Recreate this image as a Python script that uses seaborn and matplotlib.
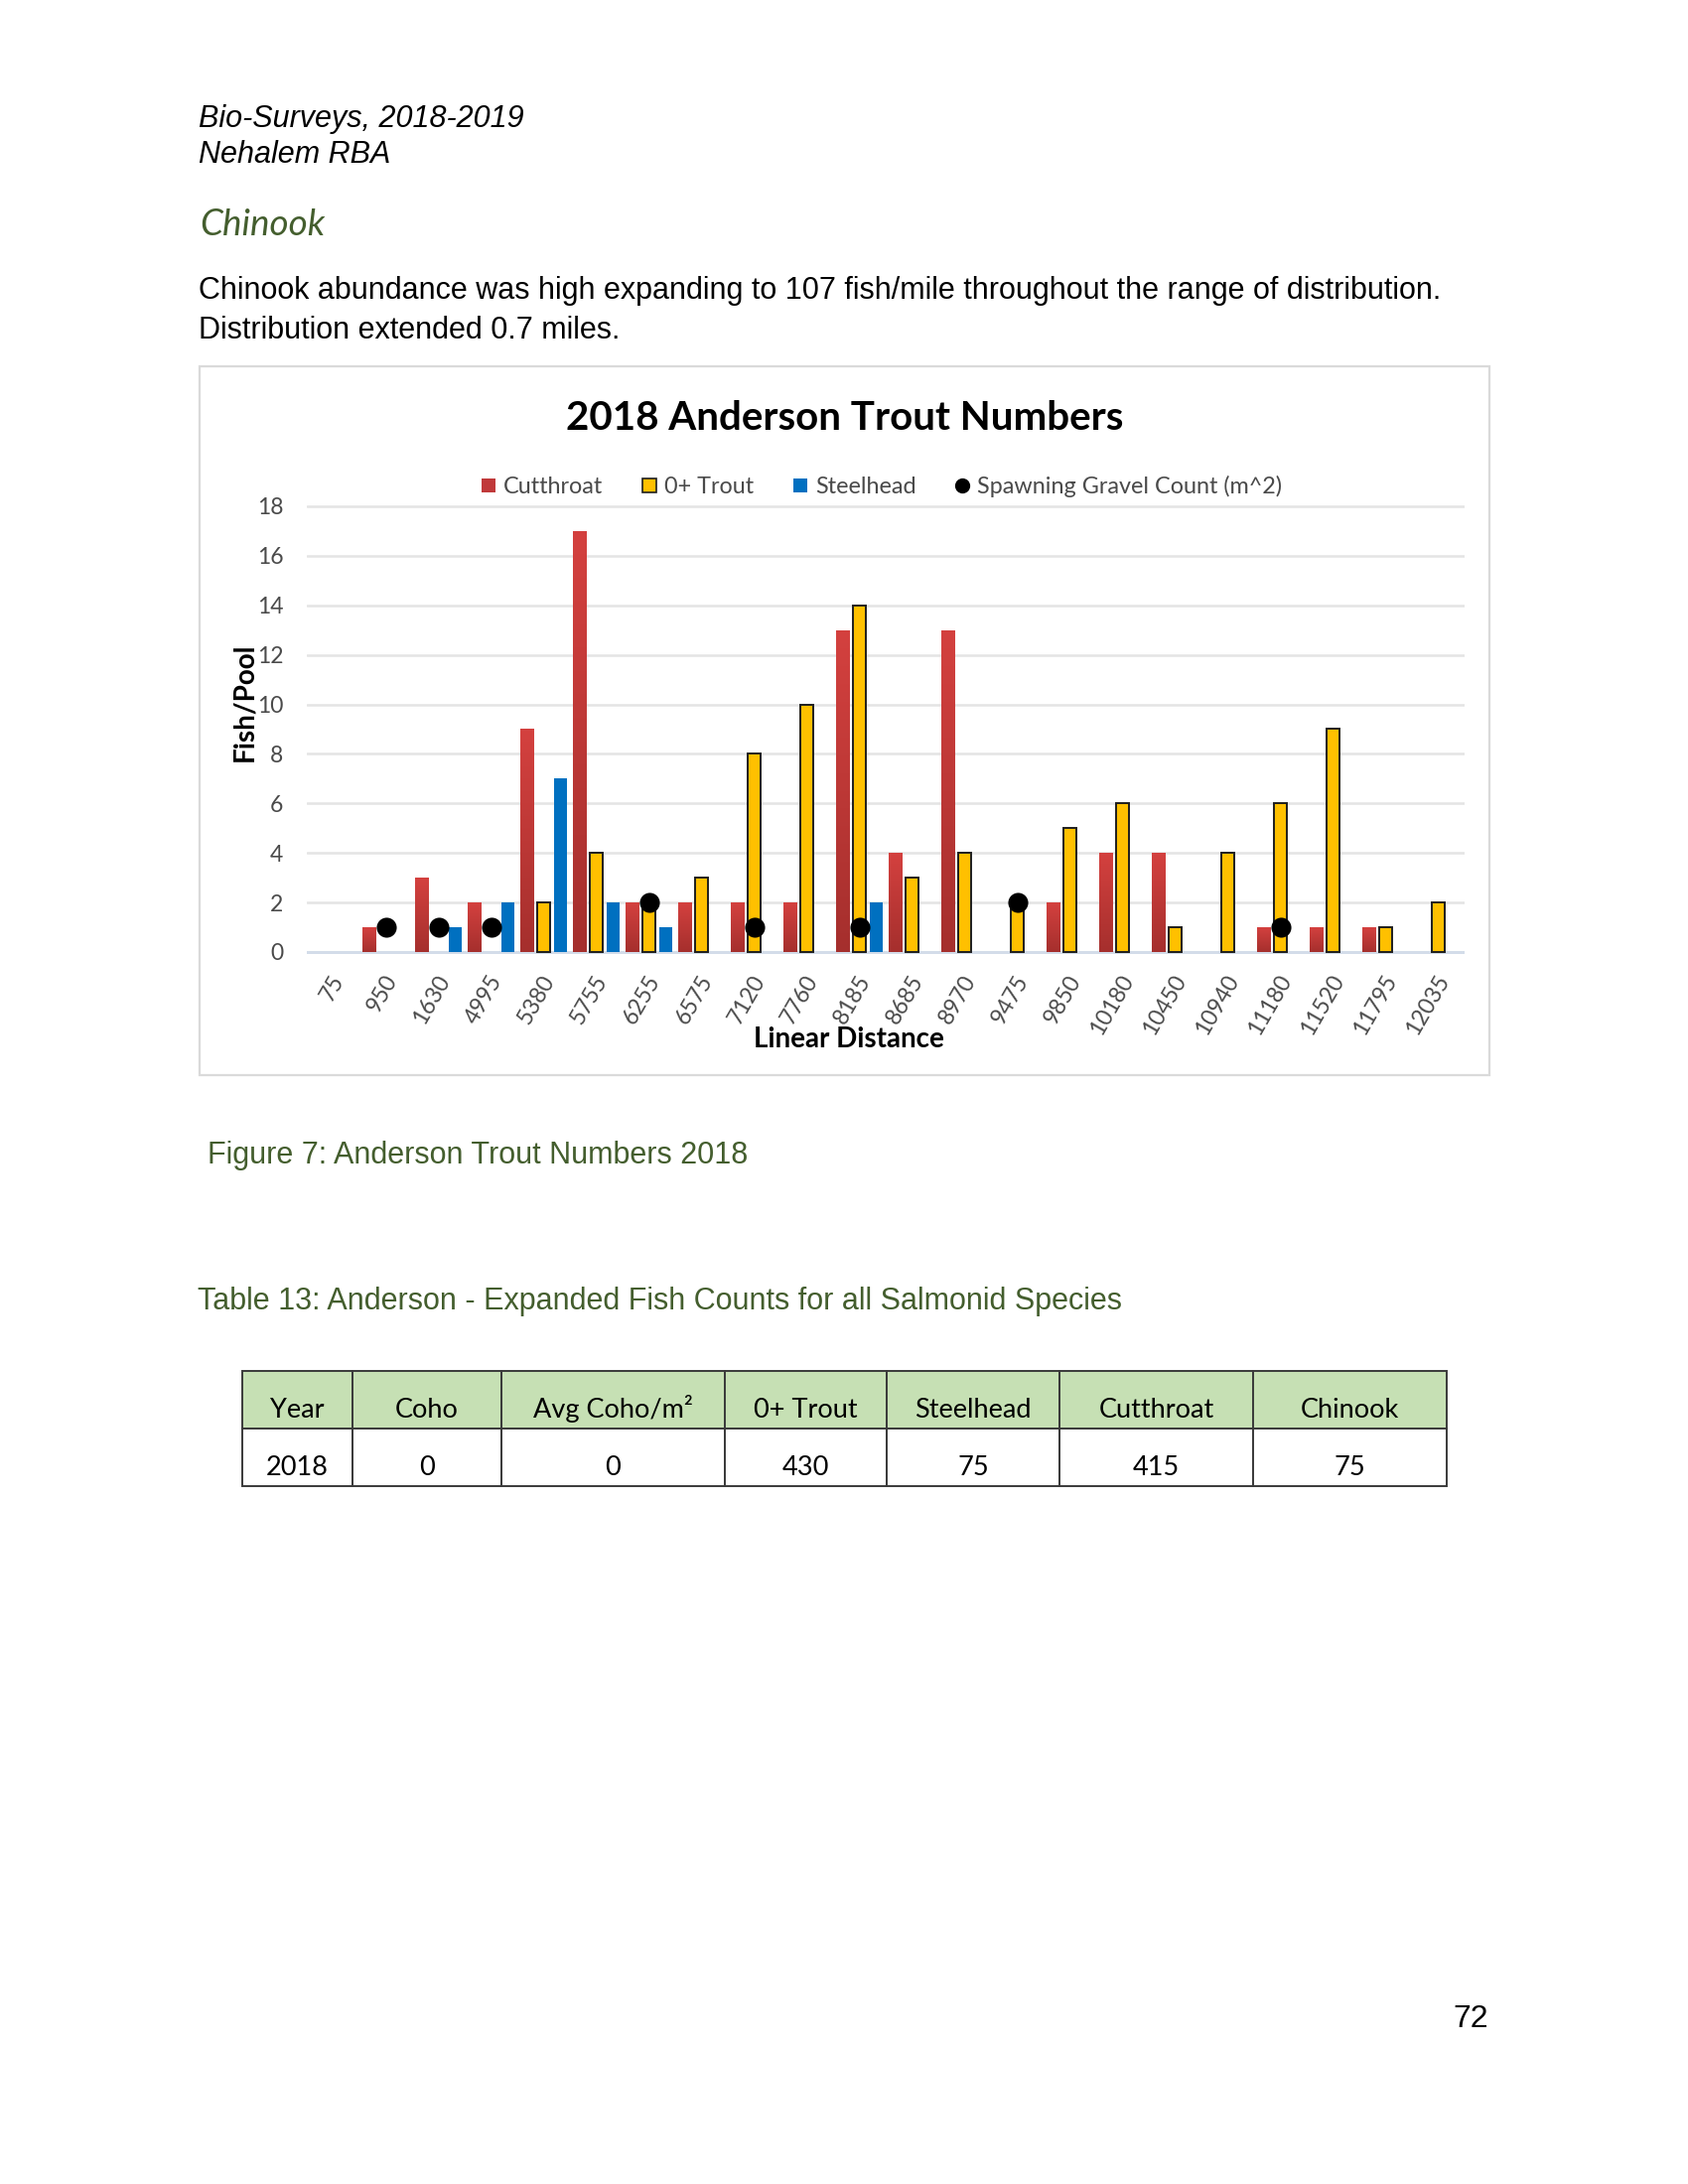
import numpy as np
import pandas as pd
import matplotlib
matplotlib.use("Agg")
import matplotlib.pyplot as plt
import seaborn as sns
from matplotlib.patches import Rectangle
from matplotlib.lines import Line2D
from matplotlib.colors import LinearSegmentedColormap
import matplotlib.transforms as mtransforms

# ---------------- data ----------------
distances = ["75", "950", "1630", "4995", "5380", "5755", "6255", "6575", "7120", "7760",
             "8185", "8685", "8970", "9475", "9850", "10180", "10450", "10940", "11180",
             "11520", "11795", "12035"]
cutthroat = [0, 1, 3, 2, 9, 17, 2, 2, 2, 2, 13, 4, 13, 0, 2, 4, 4, 0, 1, 1, 1, 0]
trout0 = [0, 0, 0, 0, 2, 4, 2, 3, 8, 10, 14, 3, 4, 2, 5, 6, 1, 4, 6, 9, 1, 2]
steelhead = [0, 0, 1, 2, 7, 2, 1, 0, 0, 0, 2, 0, 0, 0, 0, 0, 0, 0, 0, 0, 0, 0]
gravel = [np.nan, 1, 1, 1, np.nan, np.nan, 2, np.nan, 1, np.nan, 1, np.nan, np.nan, 2,
          np.nan, np.nan, np.nan, np.nan, 1, np.nan, np.nan, np.nan]
species = ["Cutthroat", "0+ Trout", "Steelhead"]
gravel_label = "Spawning Gravel Count (m^2)"
y_ticks = [0, 2, 4, 6, 8, 10, 12, 14, 16, 18]

table_header = ["Year", "Coho", "Avg Coho/m\u00b2", "0+ Trout", "Steelhead", "Cutthroat", "Chinook"]
table_row = ["2018", "0", "0", "430", "75", "415", "75"]

# ---------------- styling ----------------
RED_TOP, RED_BOT = "#D4413F", "#A52F2D"
YELLOW = "#FFC000"
BLUE = "#0070C0"
GREEN_TXT = "#445E2E"
GRAY_TXT = "#4A4A4A"
CHART_FONT = ["Lato", "DejaVu Sans"]
PAGE_FONT = ["Liberation Sans", "DejaVu Sans"]

sns.set_theme(style="white")
plt.rcParams["font.family"] = CHART_FONT

W, H = 1700, 2200
fig = plt.figure(figsize=(17, 22), dpi=100)
fig.patch.set_facecolor("white")


def fx(px):
    return px / W


def fy(py):
    return 1 - py / H


# ---------------- page text ----------------
fig.text(fx(200), fy(128), "Bio-Surveys, 2018-2019", family=PAGE_FONT, style="italic",
         fontsize=22, va="baseline", ha="left", color="black")
fig.text(fx(200), fy(164), "Nehalem RBA", family=PAGE_FONT, style="italic",
         fontsize=22, va="baseline", ha="left", color="black")
fig.text(fx(201), fy(237), "Chinook", family=CHART_FONT, style="italic",
         fontsize=26.5, va="baseline", ha="left", color=GREEN_TXT)
fig.text(fx(200), fy(301),
         "Chinook abundance was high expanding to 107 fish/mile throughout the range of distribution.",
         family=PAGE_FONT, fontsize=22, va="baseline", ha="left", color="black")
fig.text(fx(200), fy(341), "Distribution extended 0.7 miles.",
         family=PAGE_FONT, fontsize=22, va="baseline", ha="left", color="black")

# chart frame
fig.patches.append(Rectangle((fx(201), fy(1083)), fx(1500) - fx(201), fy(369) - fy(1083),
                             transform=fig.transFigure, facecolor="none",
                             edgecolor="#DADADA", linewidth=1.6, zorder=-1))

# ---------------- chart ----------------
ymin, ymax = -0.1, 18.1
ppu = (959 - 510) / 18.0
ax_top = 510 - (ymax - 18) * ppu
ax_bot = 959 + (0 - ymin) * ppu
ax = fig.add_axes([fx(309), fy(ax_bot), fx(1475) - fx(309), (ax_bot - ax_top) / H])
ax.set_facecolor("none")

df = pd.DataFrame({
    "Distance": distances * 3,
    "Species": [species[0]] * len(distances) + [species[1]] * len(distances) + [species[2]] * len(distances),
    "Count": cutthroat + trout0 + steelhead,
})
sns.barplot(data=df, x="Distance", y="Count", hue="Species", order=distances,
            hue_order=species, palette=[RED_BOT, YELLOW, BLUE], width=0.96, gap=0.22,
            errorbar=None, legend=False, ax=ax, zorder=3, saturation=1)

cmap_red = LinearSegmentedColormap.from_list("redgrad", [RED_BOT, RED_TOP])
for i, cont in enumerate(ax.containers):
    for p in cont.patches:
        h = p.get_height()
        if not np.isfinite(h) or h <= 0:
            p.set_linewidth(0)
            p.set_visible(False)
            continue
        if i == 1:
            p.set_edgecolor("#1E1E1E")
            p.set_linewidth(1.4)
        else:
            p.set_linewidth(0)
        if i == 0:
            x0 = p.get_x()
            w = p.get_width()
            grad = np.linspace(0, 1, 256).reshape(-1, 1)
            im = ax.imshow(grad, extent=[x0, x0 + w, 0, h], origin="lower", cmap=cmap_red,
                           aspect="auto", zorder=3.1, interpolation="bilinear")
            im.set_clip_path(p)

gdf = pd.DataFrame({"Distance": distances, "Gravel": gravel})
sns.stripplot(data=gdf, x="Distance", y="Gravel", order=distances, jitter=False,
              color="black", size=14.5, linewidth=0, ax=ax, zorder=6)

ax.set_xlim(-0.5, len(distances) - 0.5)
ax.set_ylim(ymin, ymax)
ax.set_yticks(y_ticks)
ax.yaxis.grid(True, color="#E4E4E4", linewidth=1.8, zorder=0)
ax.xaxis.grid(False)
ax.set_axisbelow(True)
for s in ax.spines.values():
    s.set_visible(False)
ax.axhline(0, color="#D3DCE9", linewidth=2.2, zorder=2)

ax.tick_params(axis="y", length=0, pad=17, labelsize=16.5, labelcolor=GRAY_TXT)
ax.tick_params(axis="x", length=0, pad=16, labelsize=16.5, labelcolor=GRAY_TXT)
offset = mtransforms.ScaledTranslation(6 / 100, 0, fig.dpi_scale_trans)
for lab in ax.get_xticklabels():
    lab.set_rotation(60)
    lab.set_rotation_mode("anchor")
    lab.set_ha("right")
    lab.set_va("center")
    lab.set_transform(lab.get_transform() + offset)
ax.set_xlabel("")
ax.set_ylabel("")

fig.text(fx(246), fy(707), "Fish/Pool", rotation=90, fontsize=20, fontweight="bold",
         ha="center", va="center", color="black")
fig.text(fx(855), fy(1047), "Linear Distance", fontsize=20, fontweight="bold",
         ha="center", va="center", color="black")
fig.text(fx(851), fy(433), "2018 Anderson Trout Numbers", fontsize=29, fontweight="bold",
         ha="center", va="baseline", color="black")

handles = [
    Line2D([], [], marker="s", linestyle="none", markersize=10, markerfacecolor="#C0393A",
           markeredgewidth=0),
    Line2D([], [], marker="s", linestyle="none", markersize=10, markerfacecolor=YELLOW,
           markeredgecolor="#1E1E1E", markeredgewidth=1.2),
    Line2D([], [], marker="s", linestyle="none", markersize=10, markerfacecolor=BLUE,
           markeredgewidth=0),
    Line2D([], [], marker="o", linestyle="none", markersize=11, markerfacecolor="black",
           markeredgewidth=0),
]
leg = fig.legend(handles, species + [gravel_label], loc="center",
                 bbox_to_anchor=(fx(888), fy(490)), ncol=4, frameon=False,
                 fontsize=16.8, handlelength=0.6, handletextpad=0.35, columnspacing=1.7,
                 labelcolor=GRAY_TXT)

# ---------------- captions ----------------
fig.text(fx(209), fy(1172), "Figure 7: Anderson Trout Numbers 2018", family=PAGE_FONT,
         fontsize=22, va="baseline", ha="left", color=GREEN_TXT)
fig.text(fx(199), fy(1319), "Table 13: Anderson - Expanded Fish Counts for all Salmonid Species",
         family=PAGE_FONT, fontsize=22, va="baseline", ha="left", color=GREEN_TXT)

# ---------------- table ----------------
col_edges = [244, 355, 505, 730, 893, 1067, 1262, 1457]
row_edges = [1381, 1439, 1497]
for r, (top, bot) in enumerate(zip(row_edges[:-1], row_edges[1:])):
    cells = table_header if r == 0 else table_row
    for c, (l, rt) in enumerate(zip(col_edges[:-1], col_edges[1:])):
        fig.patches.append(Rectangle((fx(l), fy(bot)), fx(rt) - fx(l), fy(top) - fy(bot),
                                     transform=fig.transFigure,
                                     facecolor="#C6E0B4" if r == 0 else "white",
                                     edgecolor="#3A3A3A", linewidth=1.4, zorder=1))
        fig.text(fx((l + rt) / 2), fy(bot - 11), cells[c], fontsize=19.5, ha="center",
                 va="baseline", color="black", family=CHART_FONT)

fig.text(fx(1499), fy(2042), "72", family=PAGE_FONT, fontsize=23, ha="right",
         va="baseline", color="black")

fig.savefig("out.png", dpi=100, facecolor="white")
